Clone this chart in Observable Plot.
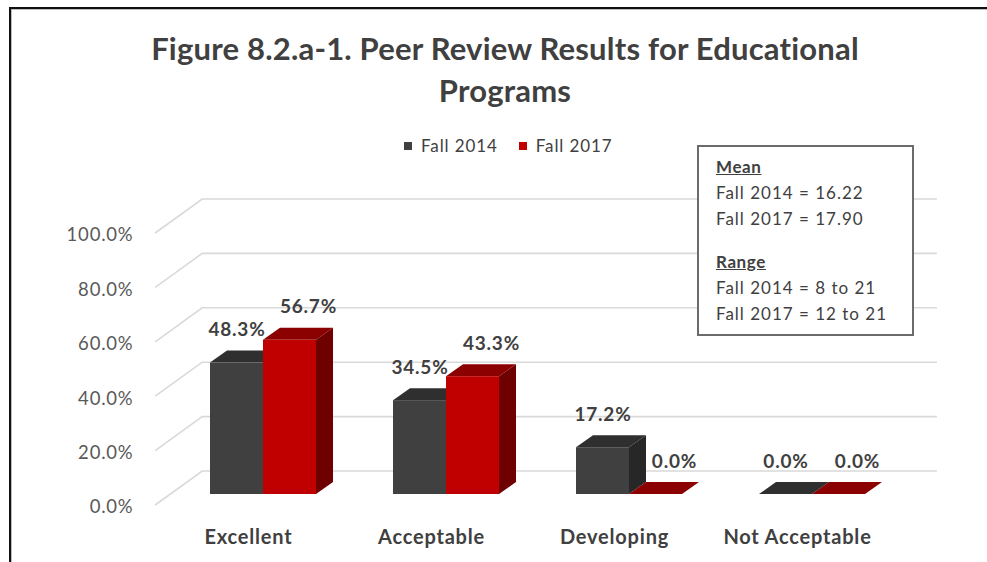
<!DOCTYPE html>
<html>
<head>
<meta charset="utf-8">
<script src="https://cdn.jsdelivr.net/npm/d3@7"></script>
<script src="https://cdn.jsdelivr.net/npm/@observablehq/plot@0.6"></script>
<style>
  body { margin: 0; background: #fff; font-family: Lato, "Open Sans", sans-serif; }
  #wrap { position: relative; width: 987px; height: 562px; overflow: hidden; background: #fff; }
  #frame { position: absolute; left: 9px; top: 7px; width: 1000px; height: 600px;
           border-left: 2px solid #111; border-top: 2px solid #111; box-shadow: inset 1px 1px 0 #bdbdbd; }
  #chart { position: absolute; left: 0; top: 0; }
  #chart svg text { letter-spacing: 0.8px; }
  #title { position: absolute; left: 0; top: 27px; width: 1010px; text-align: center;
           font-weight: bold; font-size: 31px; letter-spacing: 0.2px; line-height: 42px; color: #404040; }
  #legend { position: absolute; left: 404px; top: 135px; font-size: 17px; letter-spacing: 0.9px; color: #404040;
            display: flex; align-items: center; line-height: 22px; }
  #legend .sw { display: inline-block; width: 8px; height: 8px; margin-right: 9px; }
  #legend .item { display: flex; align-items: center; margin-right: 21px; }
  #box { position: absolute; left: 697px; top: 145px; width: 196px; height: 180px;
         border: 2px solid #6b6b6b; background: #fff; padding: 7px 0 0 17px;
         font-size: 17px; letter-spacing: 1px; line-height: 26px; color: #404040; }
  #box .hd { font-weight: bold; text-decoration: underline; letter-spacing: 0.6px; }
  #box .gap { height: 17px; }
</style>
</head>
<body>
<div id="wrap">
  <div id="frame"></div>
  <div id="chart"></div>
  <div id="title">Figure 8.2.a-1. Peer Review Results for Educational<br>Programs</div>
  <div id="legend"></div>
  <div id="box"></div>
</div>
<script>
// ---- data ----
const categories = ["Excellent", "Acceptable", "Developing", "Not Acceptable"];
const seriesNames = ["Fall 2014", "Fall 2017"];
const fall2014 = [0.483, 0.345, 0.172, 0.0];
const fall2017 = [0.567, 0.433, 0.0, 0.0];
const yTicks = [0, 0.2, 0.4, 0.6, 0.8, 1.0];
const meanHeading = "Mean";
const meanLines = ["Fall 2014 = 16.22", "Fall 2017 = 17.90"];
const rangeHeading = "Range";
const rangeLines = ["Fall 2014 = 8 to 21", "Fall 2017 = 12 to 21"];

// ---- styles ----
const colors = {
  "Fall 2014": {front: "#404040", top: "#2f2f2f", side: "#272727"},
  "Fall 2017": {front: "#c00000", top: "#8b0000", side: "#6e0000"}
};
const DEPTH = [17, -12];   // bar depth projection (px)
const FRONT = [-15, 11];   // floor front edge relative to bar plane
const BACK = [32, -23];    // back wall relative to bar plane
const fmt = d3.format(".1%");

const rows14 = categories.map((c, i) => ({category: c, series: seriesNames[0], value: fall2014[i]}));
const rows17 = categories.map((c, i) => ({category: c, series: seriesNames[1], value: fall2017[i]}));

function gridMark() {
  return (index, scales) => {
    const g = d3.create("svg:g").attr("fill", "none").attr("stroke", "#d9d9d9").attr("stroke-width", 1.6);
    const [xl, xr] = scales.x.range();
    for (const v of yTicks) {
      const y = scales.y(v);
      g.append("path").attr("d",
        `M${xl + FRONT[0]},${y + FRONT[1]}L${xl + BACK[0]},${y + BACK[1]}L${xr + BACK[0]},${y + BACK[1]}`);
    }
    return g.node();
  };
}

function depthFaces(rows, half) {
  return (index, scales) => {
    const g = d3.create("svg:g");
    const bw = scales.x.bandwidth();
    const [dx, dy] = DEPTH;
    for (const d of rows) {
      const c = colors[d.series];
      const x0 = scales.x(d.category) + half * bw / 2;
      const x1 = x0 + bw / 2;
      const yt = scales.y(d.value), yb = scales.y(0);
      g.append("path").attr("fill", c.top)
        .attr("d", `M${x0},${yt}L${x1},${yt}L${x1 + dx},${yt + dy}L${x0 + dx},${yt + dy}Z`);
      g.append("path").attr("fill", c.side)
        .attr("d", `M${x1},${yt}L${x1 + dx},${yt + dy}L${x1 + dx},${yb + dy}L${x1},${yb}Z`);
    }
    return g.node();
  };
}

const chart = Plot.plot({
  width: 987,
  height: 562,
  marginLeft: 170,
  marginRight: 82,
  style: {fontFamily: "Lato, 'Open Sans', sans-serif", background: "transparent", overflow: "visible"},
  x: {type: "band", domain: categories, range: [170.2, 904.9], paddingInner: 0.4229, paddingOuter: 0.2115, axis: null},
  y: {domain: [0, 1], range: [494, 222], axis: null},
  marks: [
    gridMark(),
    Plot.text(yTicks, {y: d => d, frameAnchor: "left", text: d => fmt(d), textAnchor: "end",
      dx: -37, dy: 13, fontSize: 18.5, fill: "#595959"}),
    depthFaces(rows14, 0),
    Plot.barY(rows14, {x: "category", y: "value", fill: colors["Fall 2014"].front, insetRight: 53}),
    depthFaces(rows17, 1),
    Plot.barY(rows17, {x: "category", y: "value", fill: colors["Fall 2017"].front, insetLeft: 53}),
    Plot.text(rows14, {x: "category", y: "value", text: d => fmt(d.value), dx: -26.5, dy: -33,
      fontSize: 19, fontWeight: "bold", fill: "#404040"}),
    Plot.text(rows17, {x: "category", y: "value", text: d => fmt(d.value), dx: 45, dy: -33,
      fontSize: 19, fontWeight: "bold", fill: "#404040"}),
    Plot.text(categories, {x: d => d, y: () => 0, text: d => d, dx: -15, dy: 43,
      fontSize: 20, fontWeight: "bold", fill: "#404040"})
  ]
});
document.getElementById("chart").appendChild(chart);

// legend
const legend = document.getElementById("legend");
seriesNames.forEach(s => {
  const item = document.createElement("span");
  item.className = "item";
  const sw = document.createElement("span");
  sw.className = "sw";
  sw.style.background = colors[s].front;
  item.appendChild(sw);
  item.appendChild(document.createTextNode(s));
  legend.appendChild(item);
});

// stats box
const box = document.getElementById("box");
function line(text, cls) {
  const div = document.createElement("div");
  if (cls) div.className = cls;
  div.textContent = text;
  box.appendChild(div);
}
line(meanHeading, "hd");
meanLines.forEach(t => line(t));
line("", "gap");
line(rangeHeading, "hd");
rangeLines.forEach(t => line(t));
</script>
</body>
</html>
